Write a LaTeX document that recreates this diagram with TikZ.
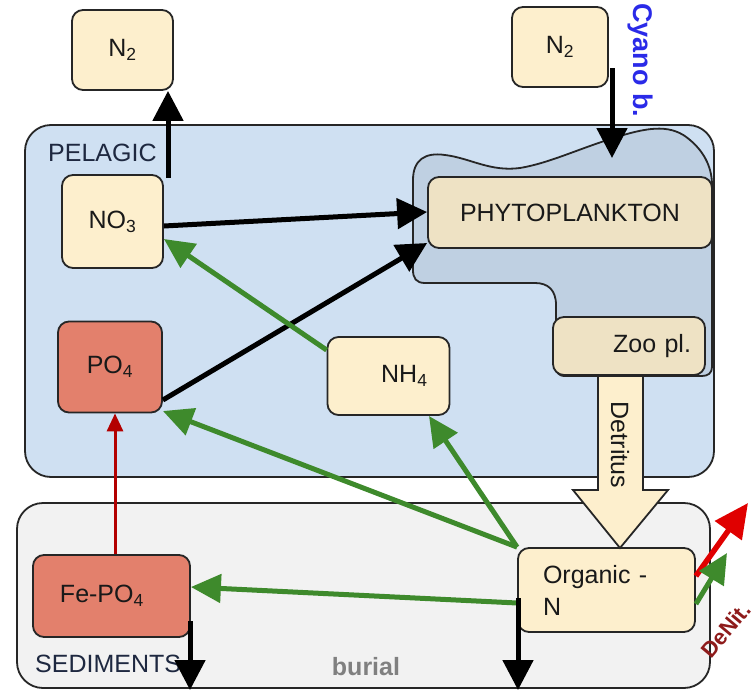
\documentclass[tikz,border=0pt]{standalone}
\usepackage{fontspec}
\setmainfont{Liberation Sans}
\usetikzlibrary{arrows.meta}
\definecolor{pelfill}{HTML}{CFE0F2}
\definecolor{sedfill}{HTML}{F2F2F2}
\definecolor{blobfill}{HTML}{BFD0E2}
\definecolor{cream}{HTML}{FDEFCD}
\definecolor{beige}{HTML}{EEE2C4}
\definecolor{salmon}{HTML}{E3806C}
\definecolor{flowgreen}{HTML}{3E8A2C}
\definecolor{flowred}{HTML}{E00000}
\definecolor{denit}{HTML}{8E1B1B}
\definecolor{cyano}{HTML}{2A2AE8}
\definecolor{labelnavy}{HTML}{1E2840}
\tikzset{
  x=1pt, y=-1pt,
  every node/.style={font=\fontsize{25}{30}\selectfont, text=black!90},
  pool/.style={draw=black!85, line width=1.8pt, rounded corners=11pt, inner sep=0pt},
  compartment/.style={draw=black!85, line width=1.8pt, rounded corners=26pt},
  flowblack/.style={draw=black, line width=5pt, -{Triangle[length=30pt,width=30pt]}},
  flowgreen/.style={draw=flowgreen, line width=5pt, -{Triangle[length=30pt,width=28pt]}},
  flowred/.style={draw=flowred!80!black, line width=3pt, -{Triangle[length=18pt,width=16pt]}},
  flowredbig/.style={draw=flowred, line width=5.5pt, -{Triangle[length=34pt,width=32pt]}},
}
\begin{document}
\begin{tikzpicture}
\useasboundingbox (0,0) rectangle (756,691);

% compartments
\draw[compartment, fill=pelfill] (25,125) rectangle (714,477);
\draw[compartment, fill=sedfill] (17,503) rectangle (710,688);
\node[anchor=west, text=labelnavy, inner sep=0pt] (pelagic) at (48,153) {PELAGIC};
\node[anchor=west, text=labelnavy, inner sep=0pt] (sediments) at (35,664) {SEDIMENTS};
\node[text=black!50, font=\fontsize{25}{30}\selectfont\bfseries] (burial) at (366,667) {burial};

% plankton region
\draw[black!85, line width=1.8pt, fill=blobfill]
  (413,180) .. controls (413,160) and (425,152) .. (445,155)
  .. controls (470,158) and (490,172) .. (520,168)
  .. controls (550,163) and (580,148) .. (620,136)
  .. controls (650,127) and (672,124) .. (690,140)
  .. controls (702,150) and (712,165) .. (712,185)
  -- (712,367) .. controls (712,373) and (708,376) .. (702,376)
  -- (565,376) .. controls (558,376) and (556,372) .. (556,366)
  -- (556,305) .. controls (556,290) and (548,283) .. (535,283)
  -- (425,283) .. controls (416,283) and (413,278) .. (413,270)
  -- cycle;

% pools
\node[pool, fill=cream, minimum width=101pt, minimum height=80pt] (n2l) at (122.5,50) {N\textsubscript{2}};
\node[pool, fill=cream, minimum width=96pt, minimum height=80pt] (n2r) at (560,47) {N\textsubscript{2}};
\node[pool, fill=cream, minimum width=101pt, minimum height=93pt] (no3) at (112.5,221.5) {NO\textsubscript{3}};
\node[pool, fill=salmon, minimum width=104pt, minimum height=91pt] (po4) at (110,367) {PO\textsubscript{4}};
\node[pool, fill=cream, minimum width=122pt, minimum height=78pt, text width=106pt, align=right] (nh4) at (388.5,376) {NH\textsubscript{4}\hspace*{14pt}};
\node[pool, fill=beige, minimum width=284pt, minimum height=71pt] (phyto) at (570,212.5) {PHYTOPLANKTON};
\node[pool, fill=beige, minimum width=152pt, minimum height=58pt, text width=124pt, align=right] (zoo) at (629,346) {Zoo pl.};
\node[pool, fill=cream, minimum width=177pt, minimum height=84pt, text width=127pt, align=left,
      font=\fontsize{25}{32}\selectfont] (orgn) at (606.5,590) {Organic -\\N};
\node[pool, fill=salmon, minimum width=157pt, minimum height=82pt, text width=141pt, align=left] (fepo4) at (111.5,596) {\hspace*{19pt}Fe-PO\textsubscript{4}};

% detritus flux
\draw[black!85, line width=1.8pt, fill=cream]
  (598,376) -- (643,376) -- (643,490) -- (668,490) -- (620,548)
  -- (573,490) -- (598,490) -- cycle;
\node[rotate=-90] (detritus) at (620,445) {Detritus};

% uptake and exchange
\coordinate (n2out) at (168,178);
\draw[flowblack] (n2out) -- (n2l.south -| n2out);
\coordinate (fixin) at (612,68);
\draw[flowblack] (fixin) -- (612,158);
\node[rotate=-90, text=cyano, anchor=north west, inner sep=0pt,
      font=\fontsize{27}{30}\selectfont\bfseries] (cyanob) at (653,3) {Cyano b.};
\draw[flowblack] (no3.east |- 0,226) -- (phyto.west |- 0,212);
\draw[flowblack] (po4.east |- 0,400) -- (phyto.west |- 0,243);

% mineralisation
\coordinate (nh4in) at (429,416);
\draw[flowgreen] (nh4.west |- 0,350) -- (no3.east |- 0,239);
\draw[flowgreen] (orgn.north west) -- (po4.east |- 0,411);
\draw[flowgreen] (orgn.north west) -- (nh4in);
\draw[flowgreen] (orgn.west |- 0,603) -- (fepo4.east |- 0,587);
\draw[flowred] (fepo4.north -| 115,0) -- (po4.south -| 115,0);

% denitrification
\coordinate (denitout) at (748,503);
\draw[flowredbig] (orgn.east |- 0,576) -- (denitout);
\coordinate (denitgreen) at (727,553);
\draw[flowgreen] (orgn.east |- 0,604) -- (denitgreen);
\node[rotate=50, text=denit, font=\fontsize{22}{26}\selectfont\bfseries, inner sep=0pt] (denitlbl) at (726,630) {DeNit.};

% burial
\coordinate (burialfe) at (190,690);
\coordinate (burialorg) at (518,690);
\draw[flowblack] (190,621) -- (burialfe);
\draw[flowblack] (518,598) -- (burialorg);
\end{tikzpicture}
\end{document}
